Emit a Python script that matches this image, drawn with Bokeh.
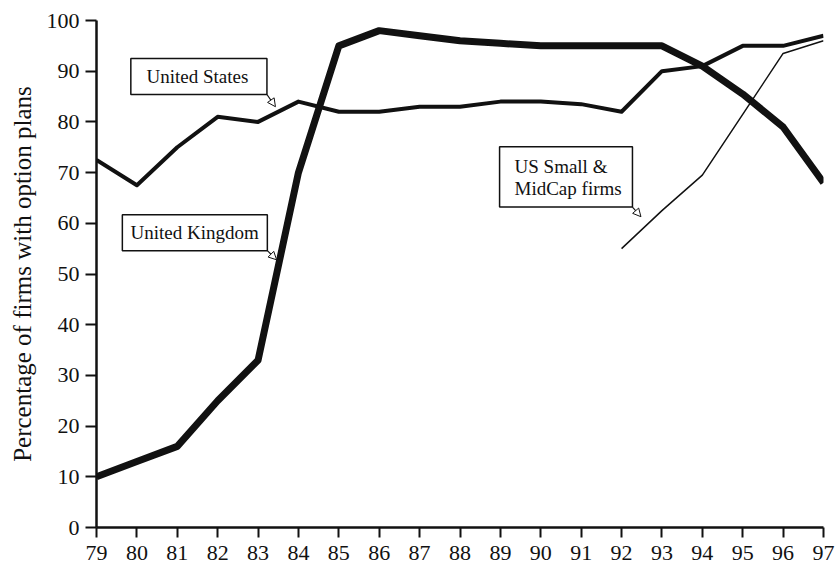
from bokeh.plotting import figure
from bokeh.models import (FixedTicker, Label, BoxAnnotation, Arrow, NormalHead, Range1d)
from bokeh.embed import file_html
from bokeh.resources import INLINE

# ---- data ----
years = [79, 80, 81, 82, 83, 84, 85, 86, 87, 88, 89, 90, 91, 92, 93, 94, 95, 96, 97]
us = [72.5, 67.5, 75, 81, 80, 84, 82, 82, 83, 83, 84, 84, 83.5, 82, 90, 91, 95, 95, 97]
uk = [10, 13, 16, 25, 33, 70, 95, 98, 97, 96, 95.5, 95, 95, 95, 95, 91, 85.5, 79, 68]
small_years = [92, 93, 94, 95, 96, 97]
small_mid = [55, 62.5, 69.5, 81.5, 93.5, 96]
y_ticks = [0, 10, 20, 30, 40, 50, 60, 70, 80, 90, 100]

FONT = "Liberation Serif"
INK = "#111111"

p = figure(width=835, height=567, output_backend="svg", toolbar_location=None,
           x_range=Range1d(79, 97), y_range=Range1d(0, 100),
           min_border_left=96, min_border_top=20, min_border_right=12, min_border_bottom=40)
p.outline_line_color = None
p.xgrid.visible = False
p.ygrid.visible = False
p.background_fill_color = "white"
p.border_fill_color = "white"

# axes
p.xaxis.ticker = FixedTicker(ticks=years)
p.yaxis.ticker = FixedTicker(ticks=y_ticks)
for ax in (p.xaxis[0], p.yaxis[0]):
    ax.axis_line_color = INK
    ax.axis_line_width = 2.5
    ax.major_tick_line_color = INK
    ax.major_tick_line_width = 2
    ax.major_tick_in = 0
    ax.minor_tick_line_color = None
    ax.major_label_text_font = FONT
    ax.major_label_text_color = INK
p.xaxis.major_tick_out = 10
p.xaxis.major_label_text_font_size = "22px"
p.xaxis.major_label_standoff = 8
p.yaxis.major_tick_out = 11
p.yaxis.major_label_text_font_size = "22px"
p.yaxis.major_label_standoff = 6
p.yaxis.axis_label = "Percentage of firms with option plans"
p.yaxis.axis_label_text_font = FONT
p.yaxis.axis_label_text_font_size = "25px"
p.yaxis.axis_label_text_font_style = "normal"
p.yaxis.axis_label_text_color = INK
p.yaxis.axis_label_standoff = 8

# lines
p.line(years, us, line_color=INK, line_width=4, line_join="round")
p.line(years, uk, line_color=INK, line_width=7, line_join="round")
p.line(small_years, small_mid, line_color=INK, line_width=1.5, line_join="round")

# annotation boxes
def box(l, r, t, b):
    p.add_layout(BoxAnnotation(left=l, right=r, top=t, bottom=b, fill_color="white",
                               fill_alpha=1, line_color=INK, line_width=1.5, line_alpha=1))

def arrow(x0, y0, x1, y1):
    p.add_layout(Arrow(end=NormalHead(size=8, fill_color="white", line_color=INK, line_width=1),
                       x_start=x0, y_start=y0, x_end=x1, y_end=y1,
                       line_color=INK, line_width=1.2))

def label(x, y, text, align="center"):
    p.add_layout(Label(x=x, y=y, text=text, text_font=FONT, text_font_size="19px",
                       text_color=INK, text_align=align, text_baseline="middle"))

box(79.85, 83.22, 92.5, 85.4)
label(81.5, 89.0, "United States")
arrow(83.22, 85.4, 83.43, 83.0)

box(79.64, 83.23, 61.7, 54.6)
label(81.43, 58.2, "United Kingdom")
arrow(83.23, 54.6, 83.46, 52.8)

box(88.98, 92.27, 75.1, 63.2)
label(89.35, 71.3, "US Small &", align="left")
label(89.35, 66.8, "MidCap firms", align="left")
arrow(92.27, 63.2, 92.48, 61.3)

open("out.html", "w").write(file_html(p, INLINE))
